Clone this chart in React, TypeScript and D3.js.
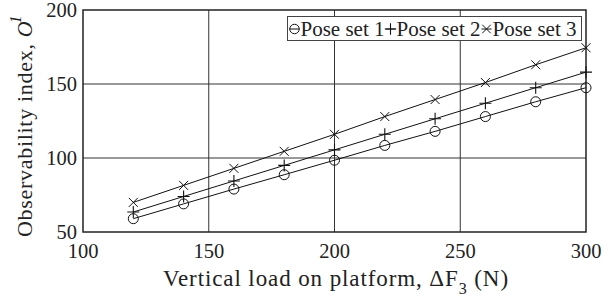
import React from "react";
import * as d3 from "d3";

const loads = [120, 140, 160, 180, 200, 220, 240, 260, 280, 300];
const poseSet1 = [59, 69, 79, 88.7, 98.5, 108.5, 118, 128, 138, 147.5];
const poseSet2 = [63.5, 74, 84.5, 95, 105.5, 116, 126.5, 137, 147.5, 158];
const poseSet3 = [70, 81.5, 93, 104.5, 116, 128, 139.5, 151, 163, 174.5];
const xTicks = [100, 150, 200, 250, 300];
const yTicks = [50, 100, 150, 200];
const seriesNames = ["Pose set 1", "Pose set 2", "Pose set 3"];
const seriesMarkers = ["circle", "plus", "cross"];

const W = 603;
const H = 302;
const L = 83, R = 586, T = 10, B = 232;
const FONT = "'Liberation Serif', 'Times New Roman', serif";

function Marker({ type, x, y, s = 1 }: { type: string; x: number; y: number; s?: number }) {
  if (type === "circle") return <circle cx={x} cy={y} r={5 * s} fill="none" stroke="#111" strokeWidth={1} />;
  if (type === "plus")
    return (
      <path d={`M${x - 6 * s},${y}H${x + 6 * s}M${x},${y - 6 * s}V${y + 6 * s}`} stroke="#111" strokeWidth={1.1} fill="none" />
    );
  const k = 4.5 * s;
  return (
    <path d={`M${x - k},${y - k}L${x + k},${y + k}M${x - k},${y + k}L${x + k},${y - k}`} stroke="#111" strokeWidth={1} fill="none" />
  );
}

export default function App() {
  const x = d3.scaleLinear().domain([100, 300]).range([L, R]);
  const y = d3.scaleLinear().domain([50, 200]).range([B, T]);
  const series = [poseSet1, poseSet2, poseSet3];
  const line = d3.line<number>().x((_, i) => x(loads[i])).y((d) => y(d));

  const legendItems = [
    { mx: 294.5, tx: 300.5 },
    { mx: 390.5, tx: 396.5 },
    { mx: 486.5, tx: 492.5 },
  ];
  const legendY = 29;

  return (
    <svg width={W} height={H} style={{ position: "absolute", left: 0, top: 0, background: "#fff" }} fontFamily={FONT}>
      <rect x={0} y={0} width={W} height={H} fill="#fff" />
      {xTicks.slice(1, -1).map((t) => (
        <line key={"gx" + t} x1={x(t)} x2={x(t)} y1={T} y2={B} stroke="#333" strokeWidth={1} />
      ))}
      {yTicks.slice(1, -1).map((t) => (
        <line key={"gy" + t} x1={L} x2={R} y1={y(t)} y2={y(t)} stroke="#333" strokeWidth={1} />
      ))}
      <rect x={L} y={T} width={R - L} height={B - T} fill="none" stroke="#222" strokeWidth={1.5} />
      {xTicks.map((t) => (
        <text key={"tx" + t} x={x(t)} y={258} textAnchor="middle" fontSize={20.5} fill="#222">
          {t}
        </text>
      ))}
      {yTicks.map((t) => (
        <text key={"ty" + t} x={77} y={y(t) + 7} textAnchor="end" fontSize={20.5} fill="#222">
          {t}
        </text>
      ))}
      <text x={163} y={286} fontSize={23} fill="#222" letterSpacing={0.9}>
        Vertical load on platform, ΔF
        <tspan dy={8} fontSize={16}>3</tspan>
        <tspan dy={-8}> (N)</tspan>
      </text>
      <text transform={`translate(31.5,237) rotate(-90)`} textAnchor="start" fontSize={22} fill="#222" letterSpacing={0.7}>
        Observability index, <tspan fontStyle="italic">O</tspan>
        <tspan fontStyle="italic" fontSize={16} dy={-11} dx={-3}>1</tspan>
      </text>
      {series.map((s, si) => (
        <g key={"s" + si}>
          <path d={line(s) || ""} fill="none" stroke="#111" strokeWidth={1} />
          {s.map((v, i) => (
            <Marker key={i} type={seriesMarkers[si]} x={x(loads[i])} y={y(v)} />
          ))}
        </g>
      ))}
      <rect x={287.5} y={16.5} width={294} height={24} fill="#fff" stroke="#444" strokeWidth={1} />
      {seriesNames.map((n, i) => (
        <g key={"lg" + i}>
          <line x1={legendItems[i].mx - 5} x2={legendItems[i].mx + 5} y1={legendY} y2={legendY} stroke="#111" strokeWidth={1} />
          <Marker type={seriesMarkers[i]} x={legendItems[i].mx} y={legendY} s={0.95} />
          <text x={legendItems[i].tx} y={35.5} fontSize={21} fill="#222">
            {n}
          </text>
        </g>
      ))}
    </svg>
  );
}
